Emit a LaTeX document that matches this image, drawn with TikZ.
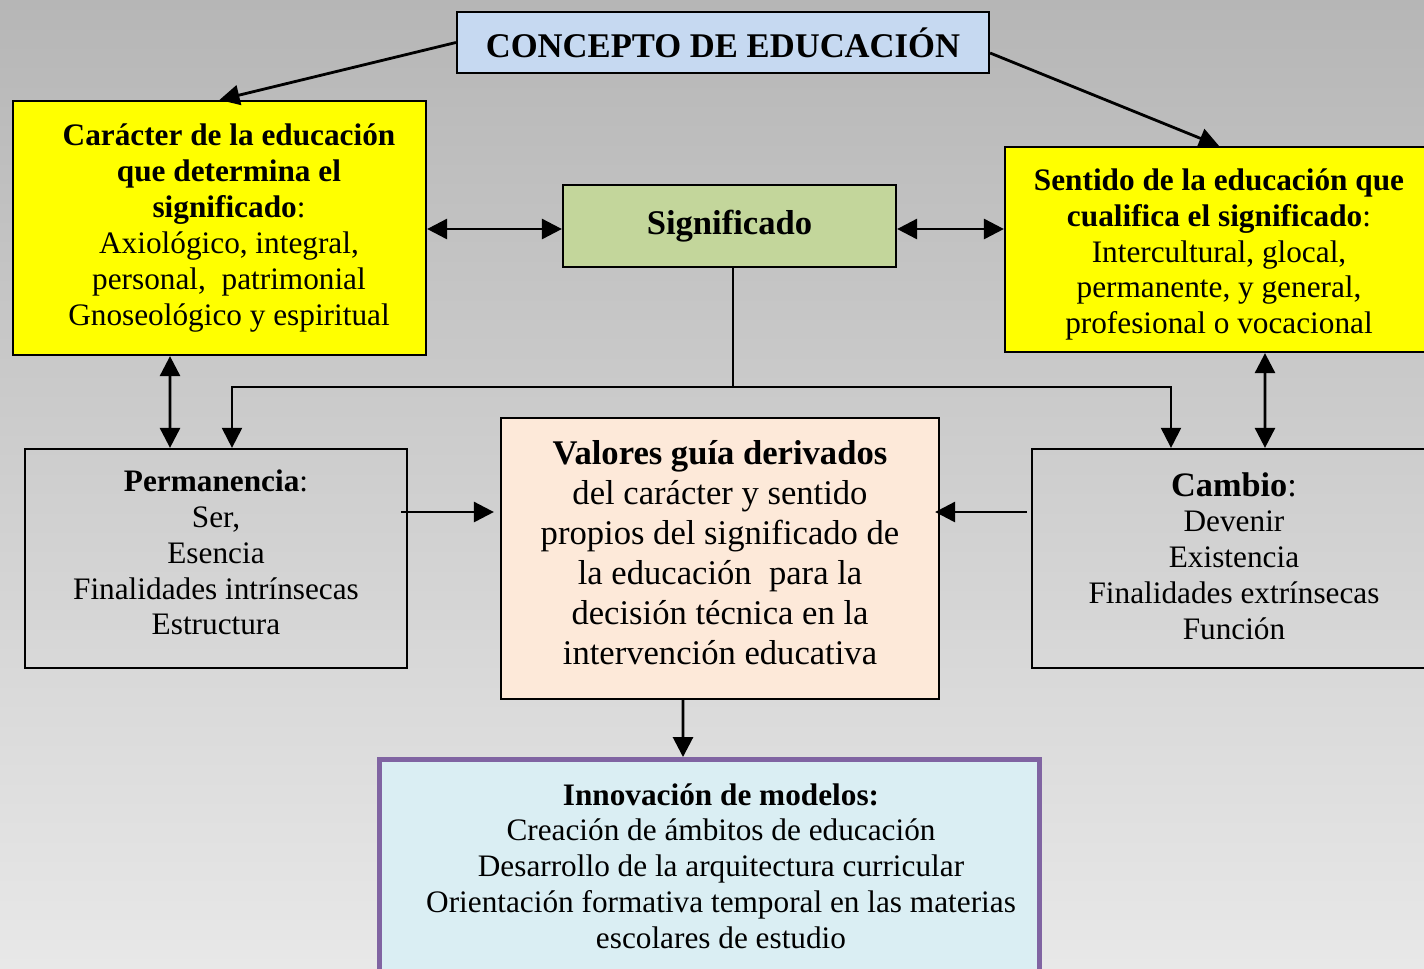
\documentclass[tikz,border=0pt]{standalone}
\usepackage{fontspec}
\setmainfont{Liberation Serif}
\usetikzlibrary{arrows.meta}
\definecolor{fondoarriba}{HTML}{B6B6B6}
\definecolor{fondoabajo}{HTML}{E8E8E8}
\definecolor{azulclaro}{HTML}{C6D9F1}
\definecolor{amarillo}{HTML}{FFFF00}
\definecolor{verdeclaro}{HTML}{C3D69B}
\definecolor{salmon}{HTML}{FDE9D9}
\definecolor{celeste}{HTML}{DAEEF3}
\definecolor{morado}{HTML}{8064A2}
\begin{document}
\begin{tikzpicture}[
            x=0.02cm, y=-0.02cm,
            caja/.style={draw, line width=1.3pt, inner sep=0pt},
            texto/.style={align=center, font=\fontsize{17.8}{20.4}\selectfont},
            grande/.style={align=center, font=\fontsize{19.7}{22.8}\selectfont},
            negrita/.style={font=\fontsize{19.7}{22.8}\selectfont\bfseries},
            flecha/.style={line width=1.6pt, -{Triangle[length=0.4cm,width=0.4cm]}},
            doble/.style={line width=1.6pt, {Triangle[length=0.4cm,width=0.4cm]}-{Triangle[length=0.4cm,width=0.4cm]}},
            rama/.style={line width=1.2pt, -{Triangle[length=0.4cm,width=0.4cm]}}
        ]
        
        % Fondo
        \shade[top color=fondoarriba, bottom color=fondoabajo] (0,0) rectangle (1424,968);
        \useasboundingbox (0,0) rectangle (1424,968);
        
        % Titulo
        \node[caja, fill=azulclaro, minimum width=10.64cm, minimum height=1.22cm, negrita] (concepto) at (723,42.5) {CONCEPTO DE EDUCACIÓN};
        
        % Fila superior
        \node[caja, fill=amarillo, minimum width=8.26cm, minimum height=5.08cm] (caracter) at (219.5,228) {};
        \node[texto] (caractertxt) at (229,228) {\textbf{Carácter de la educación}\\\textbf{que determina el}\\\textbf{significado}:\\Axiológico, integral,\\personal,~ patrimonial\\Gnoseológico y espiritual};
        \node[caja, fill=verdeclaro, minimum width=6.66cm, minimum height=1.64cm, negrita] (significado) at (729.5,226) {Significado};
        \node[caja, fill=amarillo, minimum width=8.56cm, minimum height=4.1cm] (sentido) at (1219,249.5) {};
        \node[texto] (sentidotxt) at (1219,254.5) {\textbf{Sentido de la educación que}\\\textbf{cualifica el significado}:\\Intercultural, glocal,\\permanente, y general,\\profesional o vocacional};
        
        % Fila central
        \node[caja, minimum width=7.64cm, minimum height=4.38cm] (permanencia) at (216,558.5) {};
        \node[texto] (permanenciatxt) at (216,552.5) {\textbf{Permanencia}:\\Ser,\\Esencia\\Finalidades intrínsecas\\Estructura};
        \node[caja, fill=salmon, minimum width=8.76cm, minimum height=5.62cm] (valores) at (720,558.5) {};
        \node[grande] (valorestxt) at (720,552.5) {\textbf{Valores guía derivados}\\del carácter y sentido\\propios del significado de\\la educación~ para la\\decisión técnica en la\\intervención educativa};
        \node[caja, minimum width=8.08cm, minimum height=4.38cm] (cambio) at (1234,558.5) {};
        \node[texto] (cambiotxt) at (1234,556) {{\fontsize{19.5}{22}\selectfont\textbf{Cambio}:}\\Devenir\\Existencia\\Finalidades extrínsecas\\Función};
        
        % Innovacion
        \node[caja, line width=0.1cm, draw=morado, fill=celeste, minimum width=13.2cm, minimum height=4.51cm] (innovacion) at (709.5,872.25) {};
        \node[texto] (innovaciontxt) at (721,866) {\textbf{Innovación de modelos:}\\Creación de ámbitos de educación\\Desarrollo de la arquitectura curricular\\Orientación formativa temporal en las materias\\escolares de estudio};
        
        % Flechas del titulo
        \draw[flecha] (concepto.west) -- (caracter.north);
        \draw[flecha] ([yshift=-0.21cm]concepto.east) -- (sentido.north);
        
        % Flechas dobles
        \draw[doble] ([yshift=-0.06cm]significado.west -| caracter.east) -- ([yshift=-0.06cm]significado.west);
        \draw[doble] ([yshift=-0.06cm]significado.east) -- ([yshift=-0.06cm]significado.east -| sentido.west);
        \draw[doble] ([xshift=-0.99cm]caracter.south) -- ([xshift=-0.92cm]permanencia.north);
        \draw[doble] ([xshift=0.92cm]sentido.south) -- ([xshift=0.62cm]cambio.north);
        
        % Ramas desde significado
        \draw[rama] ([xshift=0.07cm]significado.south) -- ++(0,119) -| ([xshift=0.32cm]permanencia.north);
        \draw[rama] ([xshift=0.07cm]significado.south) -- ++(0,119) -| ([xshift=-1.26cm]cambio.north);
        
        % Hacia valores e innovacion
        \draw[flecha] ([xshift=-0.14cm,yshift=0.93cm]permanencia.east) -- ([xshift=-0.12cm,yshift=0.93cm]valores.west);
        \draw[flecha] ([xshift=-0.08cm,yshift=0.93cm]cambio.west) -- ([xshift=-0.1cm,yshift=0.93cm]valores.east);
        \draw[flecha] ([xshift=-0.74cm]valores.south) -- ([xshift=-0.53cm]innovacion.north);
        
        \end{tikzpicture}
\end{document}
